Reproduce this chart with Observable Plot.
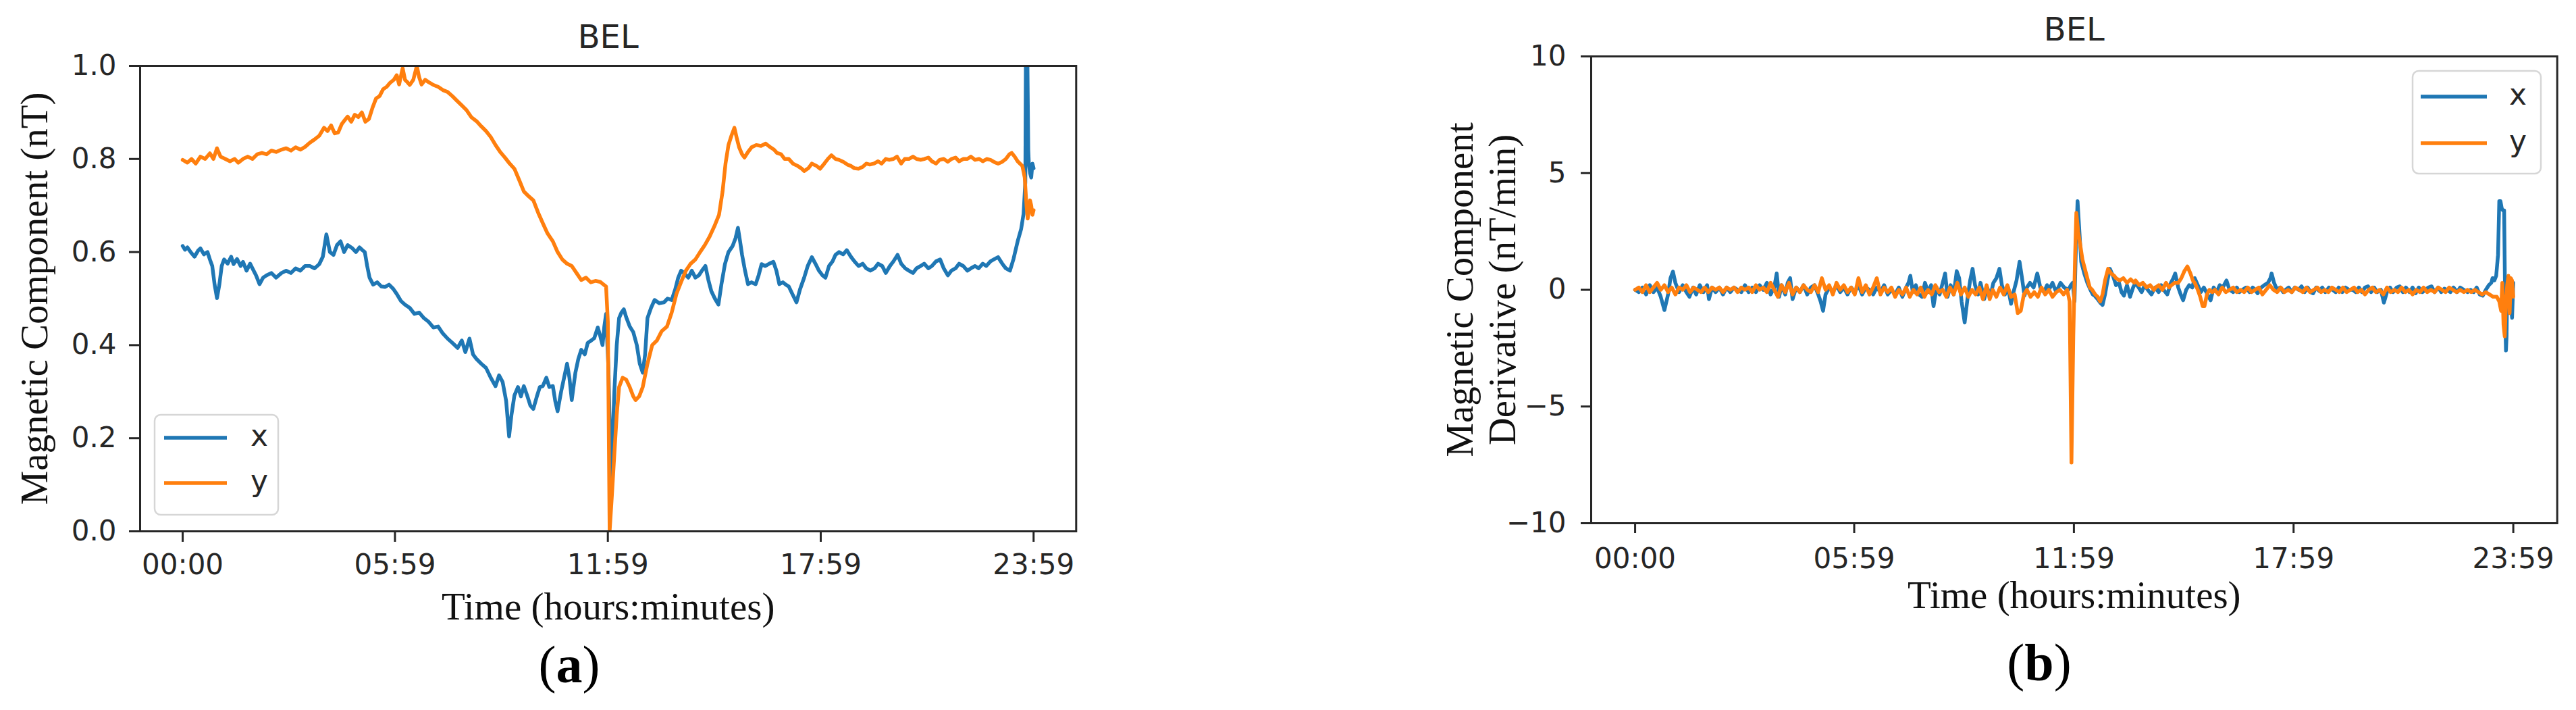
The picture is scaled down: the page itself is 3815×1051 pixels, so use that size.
<!DOCTYPE html>
<html><head><meta charset="utf-8">
<script src="https://cdn.jsdelivr.net/npm/d3@7"></script>
<script src="https://cdn.jsdelivr.net/npm/@observablehq/plot@0.6"></script>
<style>
html,body{margin:0;padding:0;background:#fff;}
#wrap{position:relative;width:3815px;height:1051px;overflow:hidden;background:#fff;}
#pa{position:absolute;left:0;top:0;width:1908px;height:1051px;}
#pb{position:absolute;left:1908px;top:0;width:1907px;height:1051px;}
#overlay{position:absolute;left:0;top:0;}
svg{max-width:none !important;}
</style></head><body>
<div id="wrap"><div id="pa"></div><div id="pb"></div></div>
<script>
// ---------- tick labels & text ----------
const timeTicks = [0, 359, 719, 1079, 1439];
const timeLabels = ["00:00", "05:59", "11:59", "17:59", "23:59"];
const yTicksA = [0, 0.2, 0.4, 0.6, 0.8, 1.0];
const yLabelsA = ["0.0", "0.2", "0.4", "0.6", "0.8", "1.0"];
const yTicksB = [-10, -5, 0, 5, 10];
const yLabelsB = ["\u221210", "\u22125", "0", "5", "10"];
const seriesNames = ["x", "y"];
const stationTitle = "BEL";
const xAxisLabel = "Time (hours:minutes)";
const yAxisLabelA = "Magnetic Component (nT)";
const yAxisLabelB = "Magnetic Component\nDerivative (nT/min)";

// ---------- panel (a): magnetic components [minute, nT] ----------
const compX = [[0,0.613],[4,0.605],[8,0.61],[14,0.599],[20,0.59],[26,0.603],[30,0.608],[36,0.595],[42,0.6],[46,0.584],[50,0.57],[54,0.53],[58,0.501],[62,0.53],[66,0.57],[70,0.584],[76,0.575],[82,0.59],[86,0.574],[92,0.585],[98,0.57],[102,0.579],[108,0.56],[114,0.575],[118,0.565],[124,0.55],[130,0.531],[136,0.545],[142,0.55],[150,0.555],[158,0.545],[167,0.555],[175,0.56],[183,0.555],[191,0.565],[199,0.56],[207,0.57],[215,0.57],[223,0.565],[231,0.574],[237,0.59],[243,0.638],[249,0.6],[255,0.594],[261,0.615],[267,0.623],[273,0.6],[279,0.615],[287,0.608],[293,0.6],[299,0.61],[304,0.604],[308,0.6],[312,0.57],[316,0.545],[322,0.53],[329,0.535],[336,0.526],[342,0.525],[349,0.53],[356,0.521],[362,0.51],[369,0.495],[376,0.487],[384,0.48],[392,0.467],[400,0.47],[408,0.458],[416,0.45],[424,0.438],[432,0.44],[440,0.425],[448,0.414],[456,0.405],[465,0.394],[472,0.41],[478,0.385],[485,0.414],[491,0.38],[497,0.37],[505,0.36],[513,0.351],[521,0.33],[529,0.312],[535,0.335],[541,0.321],[547,0.28],[552,0.204],[556,0.25],[561,0.292],[567,0.31],[572,0.29],[577,0.312],[583,0.29],[588,0.27],[593,0.263],[599,0.29],[604,0.31],[609,0.312],[615,0.33],[620,0.31],[626,0.312],[630,0.28],[634,0.258],[640,0.3],[645,0.33],[650,0.36],[654,0.33],[658,0.282],[664,0.34],[669,0.37],[674,0.39],[680,0.38],[685,0.405],[690,0.409],[696,0.415],[702,0.438],[706,0.42],[710,0.4],[713,0.44],[716,0.467],[720,0.35],[724,0.117],[727,0.2],[730,0.3],[734,0.4],[738,0.458],[742,0.47],[746,0.477],[750,0.46],[756,0.44],[762,0.428],[768,0.4],[773,0.36],[778,0.341],[782,0.38],[786,0.458],[792,0.48],[798,0.497],[806,0.49],[814,0.492],[820,0.5],[827,0.497],[833,0.52],[838,0.545],[843,0.56],[848,0.555],[855,0.545],[861,0.56],[867,0.545],[873,0.55],[878,0.56],[884,0.57],[889,0.54],[894,0.516],[900,0.5],[906,0.487],[911,0.53],[917,0.574],[923,0.6],[930,0.613],[935,0.63],[939,0.652],[943,0.62],[946,0.594],[951,0.56],[956,0.531],[962,0.535],[969,0.531],[974,0.55],[979,0.574],[985,0.57],[992,0.575],[999,0.579],[1004,0.56],[1009,0.531],[1015,0.535],[1020,0.53],[1025,0.526],[1031,0.51],[1038,0.492],[1044,0.52],[1051,0.545],[1057,0.57],[1064,0.589],[1070,0.575],[1076,0.56],[1082,0.55],[1087,0.545],[1093,0.57],[1099,0.58],[1104,0.594],[1110,0.6],[1117,0.595],[1123,0.604],[1130,0.59],[1136,0.58],[1143,0.57],[1150,0.575],[1156,0.565],[1163,0.56],[1170,0.565],[1176,0.575],[1183,0.57],[1189,0.555],[1196,0.57],[1202,0.58],[1209,0.594],[1215,0.575],[1222,0.565],[1228,0.56],[1235,0.555],[1241,0.565],[1248,0.57],[1254,0.575],[1261,0.565],[1267,0.57],[1274,0.58],[1281,0.584],[1287,0.565],[1294,0.55],[1300,0.56],[1307,0.565],[1313,0.575],[1320,0.57],[1327,0.56],[1333,0.565],[1340,0.57],[1346,0.565],[1353,0.575],[1359,0.57],[1366,0.58],[1373,0.585],[1379,0.589],[1386,0.575],[1392,0.565],[1399,0.56],[1405,0.585],[1412,0.623],[1418,0.65],[1422,0.682],[1425,0.75],[1426,1.05],[1428,1.08],[1429,0.95],[1430,0.82],[1431,0.789],[1433,0.77],[1435,0.76],[1437,0.79],[1439,0.78]];

const compY = [[0,0.798],[8,0.792],[15,0.8],[22,0.79],[30,0.805],[38,0.8],[46,0.812],[52,0.8],[58,0.823],[64,0.805],[72,0.8],[80,0.795],[88,0.8],[94,0.792],[102,0.8],[110,0.805],[118,0.8],[126,0.81],[134,0.813],[142,0.81],[150,0.818],[158,0.815],[167,0.82],[175,0.823],[183,0.818],[191,0.825],[199,0.82],[207,0.826],[215,0.835],[223,0.842],[231,0.85],[239,0.867],[245,0.86],[251,0.872],[257,0.855],[263,0.857],[269,0.875],[275,0.885],[279,0.891],[285,0.88],[291,0.895],[297,0.89],[303,0.9],[309,0.88],[315,0.886],[321,0.91],[327,0.93],[333,0.935],[339,0.95],[345,0.955],[351,0.964],[357,0.97],[362,0.98],[366,0.96],[372,0.995],[376,0.97],[380,0.965],[384,0.959],[390,0.97],[396,1.0],[400,0.975],[404,0.96],[410,0.97],[416,0.965],[424,0.959],[432,0.955],[440,0.948],[448,0.944],[456,0.935],[464,0.925],[472,0.915],[480,0.905],[488,0.89],[497,0.881],[505,0.87],[513,0.86],[521,0.847],[529,0.83],[537,0.815],[545,0.803],[553,0.79],[561,0.779],[569,0.755],[577,0.73],[585,0.72],[593,0.711],[601,0.685],[609,0.662],[617,0.64],[626,0.623],[634,0.6],[642,0.584],[650,0.575],[658,0.57],[666,0.555],[674,0.54],[682,0.545],[690,0.535],[698,0.538],[706,0.536],[712,0.53],[716,0.526],[719,0.45],[722,0.0],[726,0.08],[730,0.166],[734,0.25],[738,0.31],[744,0.33],[750,0.326],[756,0.31],[762,0.29],[766,0.282],[772,0.29],[778,0.31],[786,0.36],[794,0.4],[802,0.41],[810,0.43],[819,0.44],[827,0.47],[835,0.51],[843,0.536],[851,0.56],[859,0.575],[867,0.584],[875,0.6],[883,0.615],[891,0.633],[899,0.655],[907,0.68],[913,0.73],[918,0.79],[923,0.83],[928,0.85],[933,0.867],[937,0.845],[941,0.825],[946,0.81],[950,0.803],[956,0.815],[962,0.825],[970,0.83],[978,0.828],[986,0.833],[994,0.825],[1000,0.82],[1005,0.813],[1012,0.81],[1018,0.8],[1025,0.8],[1032,0.79],[1040,0.785],[1046,0.78],[1051,0.774],[1058,0.78],[1064,0.79],[1072,0.785],[1078,0.779],[1085,0.79],[1091,0.8],[1097,0.808],[1104,0.8],[1110,0.798],[1117,0.794],[1124,0.788],[1130,0.785],[1136,0.78],[1143,0.779],[1150,0.783],[1156,0.79],[1162,0.788],[1169,0.79],[1176,0.795],[1182,0.79],[1189,0.8],[1195,0.798],[1202,0.8],[1208,0.805],[1215,0.79],[1221,0.8],[1228,0.8],[1235,0.805],[1241,0.8],[1248,0.798],[1254,0.8],[1261,0.803],[1267,0.795],[1274,0.79],[1280,0.798],[1287,0.8],[1294,0.794],[1300,0.8],[1307,0.803],[1313,0.795],[1320,0.8],[1327,0.8],[1333,0.805],[1340,0.798],[1347,0.8],[1353,0.795],[1360,0.8],[1366,0.798],[1373,0.793],[1379,0.79],[1386,0.794],[1392,0.8],[1398,0.81],[1402,0.813],[1407,0.805],[1412,0.795],[1416,0.79],[1420,0.785],[1424,0.76],[1427,0.7],[1429,0.672],[1431,0.69],[1433,0.711],[1435,0.7],[1437,0.68],[1439,0.69]];

// ---------- panel (b): derivatives [minute, nT/min] ----------
const derivX = [[0,0],[6,-0.1],[12,0.1],[18,-0.2],[24,0.2],[30,-0.1],[36,0.1],[42,-0.3],[48,-0.87],[54,-0.2],[58,0.5],[62,0.78],[66,0.3],[72,-0.1],[78,0.2],[84,-0.1],[89,-0.3],[95,0.1],[100,-0.2],[106,0.2],[112,-0.1],[118,0.2],[121,-0.4],[126,0.1],[132,-0.1],[138,0.1],[144,-0.2],[150,0.1],[156,-0.1],[162,0.1],[168,0],[174,-0.1],[180,0.2],[186,-0.1],[192,0.1],[198,-0.1],[204,0.2],[210,0],[216,0.3],[222,-0.2],[228,0.1],[232,0.7],[236,-0.3],[240,0.2],[246,-0.2],[250,0.3],[254,0.5],[258,-0.4],[264,0.1],[270,-0.1],[276,0.2],[282,-0.2],[288,0.1],[294,0.2],[300,-0.2],[304,-0.5],[308,-0.9],[312,-0.2],[318,0.1],[324,-0.1],[330,0.2],[336,-0.1],[342,0.1],[348,-0.2],[354,0.1],[360,-0.1],[366,0.2],[372,-0.2],[378,0.1],[384,0],[390,-0.2],[396,0.1],[402,-0.1],[408,0.2],[414,-0.2],[420,0],[426,-0.2],[432,0.1],[438,-0.3],[444,0.1],[448,0.3],[451,0.6],[455,-0.1],[460,0.2],[465,-0.2],[470,-0.3],[475,0.3],[480,-0.1],[485,0.2],[489,-0.7],[494,0.1],[499,-0.2],[504,0.3],[508,0.7],[512,-0.3],[517,0.2],[522,-0.2],[527,0.8],[531,0.5],[535,-0.5],[540,-1.4],[545,-0.3],[549,0.4],[553,0.9],[557,0.2],[562,-0.2],[566,0.3],[572,-0.4],[577,0.1],[582,-0.3],[587,0.3],[592,0.5],[597,0.9],[601,0.2],[606,-0.2],[611,0.1],[616,-0.6],[620,-0.1],[625,0.4],[630,1.2],[634,0.5],[638,-0.25],[642,0.1],[647,0.3],[653,0.1],[659,0.7],[664,0.1],[670,-0.1],[675,0.2],[678,0],[684,0.3],[690,-0.1],[697,0.3],[703,0.1],[710,0],[714,0.2],[717,0.3],[720,-0.5],[722,1.5],[725,3.8],[728,2.5],[731,1.2],[736,0.7],[741,0.3],[746,0],[750,-0.2],[753,-0.25],[758,-0.4],[762,-0.55],[766,-0.65],[770,-0.2],[774,0.4],[778,0.9],[783,0.6],[788,0.2],[793,0.3],[797,-0.1],[801,-0.25],[806,0.2],[811,-0.3],[816,0.1],[820,0.3],[825,0.1],[830,-0.1],[835,0.2],[840,0],[846,-0.2],[852,0.1],[858,-0.1],[862,0.2],[866,0],[872,-0.2],[878,0.3],[882,0.5],[885,0.7],[890,0.1],[894,-0.2],[898,-0.45],[903,0],[908,0.2],[913,0.1],[917,0.5],[922,0.2],[927,-0.1],[932,0.1],[938,-0.2],[943,-0.45],[948,0.1],[953,-0.1],[958,0.2],[963,0.1],[969,0.4],[974,0],[980,-0.1],[986,0.1],[990,-0.1],[995,0],[1001,0.1],[1007,-0.1],[1012,0.1],[1016,0],[1020,-0.15],[1026,0.1],[1031,0.2],[1037,0.3],[1041,0.5],[1043,0.7],[1047,0.3],[1052,0],[1057,0.1],[1062,-0.1],[1066,0],[1071,0.1],[1076,-0.1],[1081,0.1],[1087,0],[1092,0.15],[1097,-0.1],[1102,0.1],[1107,-0.1],[1111,-0.15],[1116,0.1],[1121,-0.05],[1126,0.1],[1131,-0.1],[1137,0.1],[1143,0],[1148,-0.1],[1153,0.1],[1159,-0.1],[1164,0.1],[1170,0],[1176,0],[1181,-0.1],[1186,0.1],[1191,-0.1],[1196,0.1],[1201,0.15],[1206,-0.1],[1211,0.1],[1216,-0.1],[1222,0],[1227,-0.55],[1232,-0.1],[1237,0.1],[1242,-0.1],[1248,0.1],[1253,0.15],[1258,-0.1],[1263,0.1],[1269,-0.1],[1274,0.1],[1279,-0.15],[1284,0.1],[1290,-0.1],[1295,0],[1300,0.1],[1305,0.15],[1310,-0.1],[1316,0.1],[1321,-0.1],[1326,0.05],[1330,0],[1336,-0.1],[1341,0.1],[1347,-0.1],[1352,0.1],[1358,0],[1364,-0.1],[1369,0],[1374,-0.1],[1379,0.1],[1384,-0.2],[1389,-0.25],[1394,0],[1399,0.2],[1403,0.3],[1405,0.5],[1408,0.4],[1411,0.6],[1414,1.5],[1416,3.8],[1418,3.8],[1420,3.5],[1422,3.4],[1424,3.4],[1425,1.0],[1426,-1.5],[1427,-2.6],[1428,-2.0],[1429,0],[1431,0.5],[1433,0.5],[1435,-0.5],[1437,-1.2],[1439,0.3]];

const derivY = [[0,0],[6,0.1],[12,-0.1],[18,0.2],[24,-0.1],[30,0.1],[36,0.3],[42,0],[48,0.2],[54,-0.1],[60,0.1],[66,-0.2],[72,0.1],[78,0],[84,0.2],[90,-0.1],[96,0.1],[102,0],[108,-0.1],[114,0.1],[120,-0.1],[126,0.1],[132,0],[138,0.1],[144,-0.1],[150,0.1],[156,0],[162,0.1],[168,-0.1],[174,0.1],[180,0],[186,0.1],[192,-0.1],[198,0.2],[204,0],[210,0.1],[216,-0.1],[222,0.3],[228,0],[234,-0.3],[240,0.2],[246,-0.1],[252,0.3],[258,-0.2],[264,0.1],[270,-0.1],[276,0.2],[282,0],[288,-0.1],[294,0.2],[300,-0.1],[306,0.5],[312,0],[318,0.2],[324,-0.2],[330,0.3],[336,0],[342,0.2],[348,-0.1],[354,0.1],[360,-0.2],[366,0.5],[372,-0.1],[378,0.2],[384,-0.2],[390,0.1],[396,0.5],[402,-0.2],[408,0.1],[414,-0.1],[420,0.1],[426,-0.3],[432,0],[438,-0.2],[444,0.1],[450,-0.3],[456,0],[462,-0.2],[468,0.1],[474,-0.3],[480,0],[486,-0.2],[492,0.2],[498,-0.1],[504,0],[510,-0.3],[516,0.1],[522,-0.2],[528,0.3],[534,-0.2],[540,0.1],[546,-0.3],[552,0],[558,-0.2],[564,0.1],[570,-0.4],[576,0.2],[581,-0.4],[586,0],[592,-0.3],[598,0.1],[604,-0.2],[610,0.2],[616,-0.3],[622,-0.2],[627,-1.0],[632,-0.9],[637,-0.2],[642,0],[648,-0.3],[654,-0.1],[660,-0.3],[666,0.1],[672,-0.2],[678,0],[684,-0.3],[690,-0.1],[696,0],[702,-0.2],[708,0],[712,-0.5],[715,-7.4],[718,-2.0],[721,1.5],[723,3.3],[726,2.5],[729,2.0],[733,1.3],[736,1.0],[741,0.5],[745,0.1],[749,0],[754,-0.2],[758,-0.3],[762,-0.5],[766,-0.2],[770,0.4],[775,0.9],[780,0.7],[785,0.6],[788,0.5],[794,0.4],[800,0.5],[806,0.3],[812,0.45],[818,0.3],[820,0.4],[826,0.2],[832,0.3],[838,0.1],[844,0.2],[850,0],[853,0.1],[858,0.2],[864,0],[870,0.3],[875,0.1],[879,0.2],[884,0.3],[890,0.3],[895,0.5],[900,0.8],[905,1.0],[910,0.7],[914,0.4],[917,0.3],[922,0],[926,-0.3],[930,-0.7],[933,-0.7],[937,-0.2],[941,0],[946,-0.1],[950,0],[956,-0.2],[962,0.1],[968,-0.1],[974,0],[980,0.1],[986,-0.1],[992,0],[998,-0.1],[1004,0.1],[1010,-0.1],[1016,0],[1022,0.1],[1028,-0.2],[1034,0],[1040,0.2],[1046,0],[1052,-0.1],[1058,0.1],[1064,-0.1],[1070,0],[1076,-0.1],[1082,0.1],[1088,0],[1094,-0.1],[1100,0.1],[1106,-0.1],[1112,0],[1118,0.1],[1124,-0.1],[1130,0],[1136,-0.1],[1142,0.1],[1148,0],[1154,-0.1],[1160,0.1],[1166,-0.1],[1172,0],[1178,0.1],[1184,-0.1],[1190,0],[1196,-0.2],[1202,0],[1208,0.1],[1214,-0.1],[1220,0],[1226,-0.2],[1232,0.1],[1238,-0.1],[1244,0],[1250,-0.1],[1256,0.1],[1262,-0.1],[1268,0],[1274,-0.2],[1280,0],[1286,-0.1],[1292,0.1],[1298,-0.1],[1304,0],[1310,-0.1],[1316,0.1],[1322,0],[1328,-0.1],[1334,0.1],[1340,0],[1346,-0.1],[1352,0],[1358,-0.1],[1364,0],[1370,-0.1],[1376,0],[1382,-0.1],[1388,-0.2],[1394,-0.1],[1400,-0.2],[1406,-0.3],[1412,-0.3],[1416,-0.5],[1419,-0.9],[1421,0.3],[1423,-1.5],[1425,-2.0],[1427,-0.5],[1429,0.2],[1431,0.6],[1433,-1.0],[1435,0.5],[1437,0.4],[1439,-0.3]];

// ---------- drawing ----------
const colors = ["#1f77b4", "#ff7f0e"];
const ink = "#262626";

function panel(o) {
  const lineOpts = (c) => ({x: d => d[0], y: d => d[1], stroke: c, strokeWidth: 5.5,
    strokeLinejoin: "round", clip: true});
  return Plot.plot({
    width: o.width, height: 1051,
    marginLeft: o.mL, marginRight: o.mR, marginTop: o.mT, marginBottom: o.mB,
    style: {fontFamily: "DejaVu Sans", fontSize: "42px", color: ink, background: "transparent"},
    x: {domain: [-72, 1511]},
    y: {domain: o.yDomain},
    marks: [
      Plot.line(o.sx, lineOpts(colors[0])),
      Plot.line(o.sy, lineOpts(colors[1])),
      Plot.frame({stroke: ink, strokeWidth: 3}),
      Plot.axisY({ticks: o.yTicks, tickFormat: d => o.yLabels[o.yTicks.indexOf(d)],
        tickSize: o.tickSize, tickPadding: o.yPad, fontSize: 42, label: null,
        stroke: ink, strokeWidth: 3}),
      Plot.axisX({ticks: timeTicks, tickFormat: d => timeLabels[timeTicks.indexOf(d)],
        tickSize: o.tickSize, tickPadding: o.xPad, fontSize: 42, label: null,
        stroke: ink, strokeWidth: 3}),
      Plot.text([stationTitle], {text: d => d, frameAnchor: "top", dy: o.titleDy,
        lineAnchor: "bottom", textAnchor: "middle", fontSize: 48, fill: ink}),
      Plot.text([xAxisLabel], {text: d => d, frameAnchor: "bottom", dy: o.xLabDy,
        lineAnchor: "bottom", textAnchor: "middle", fontFamily: "Liberation Serif", fontSize: 57, fill: "#111"}),
      Plot.text([o.yLabel], {text: d => d, frameAnchor: "left", dx: o.yLabDx, rotate: -90,
        textAnchor: "middle", lineAnchor: "middle",
        lineHeight: 1.1, fontFamily: "Liberation Serif", fontSize: 57, fill: "#111"})
    ]
  });
}

document.getElementById("pa").appendChild(panel({
  width: 1908, mL: 207, mR: 314.7, mT: 97, mB: 265,
  yDomain: [0, 1], yTicks: yTicksA, yLabels: yLabelsA,
  sx: compX, sy: compY, tickSize: 16, yPad: 19, xPad: 18,
  titleDy: -27, xLabDy: 130, yLabel: yAxisLabelA, yLabDx: -158
}));

document.getElementById("pb").appendChild(panel({
  width: 1907, mL: 448, mR: 28.3, mT: 83, mB: 277,
  yDomain: [-10, 10], yTicks: yTicksB, yLabels: yLabelsB,
  sx: derivX, sy: derivY, tickSize: 15, yPad: 22, xPad: 22,
  titleDy: -24, xLabDy: 125, yLabel: yAxisLabelB, yLabDx: -164
}));

// ---------- legends and sub-captions (overlay) ----------
const ov = d3.select("#wrap").append("svg").attr("id", "overlay")
  .attr("width", 3815).attr("height", 1051);

function legend(bx, by, bw, bh, lx0, lx1, rowYs, tx) {
  const g = ov.append("g");
  g.append("rect").attr("x", bx).attr("y", by).attr("width", bw).attr("height", bh)
    .attr("rx", 9).attr("fill", "rgba(255,255,255,0.8)")
    .attr("stroke", "#d6d6d6").attr("stroke-width", 2.5);
  seriesNames.forEach((name, i) => {
    g.append("line").attr("x1", lx0).attr("x2", lx1).attr("y1", rowYs[i]).attr("y2", rowYs[i])
      .attr("stroke", colors[i]).attr("stroke-width", 5.5);
    g.append("text").attr("x", tx).attr("y", rowYs[i] + 12).attr("text-anchor", "middle")
      .attr("font-family", "DejaVu Sans").attr("font-size", 44).attr("fill", ink).text(name);
  });
}
legend(229, 614, 183, 148, 243, 336, [648, 715], 384);
legend(3573, 105, 190, 152, 3585, 3683, [143, 212], 3729);

function caption(cx, base, letter) {
  const t = ov.append("text").attr("x", cx).attr("y", base).attr("text-anchor", "middle")
    .attr("font-family", "Liberation Serif").attr("font-size", 78).attr("fill", "#000");
  t.append("tspan").text("(");
  t.append("tspan").attr("font-weight", "bold").text(letter);
  t.append("tspan").text(")");
}
caption(843, 1010, "a");
caption(3020, 1007, "b");
</script>
</body></html>
